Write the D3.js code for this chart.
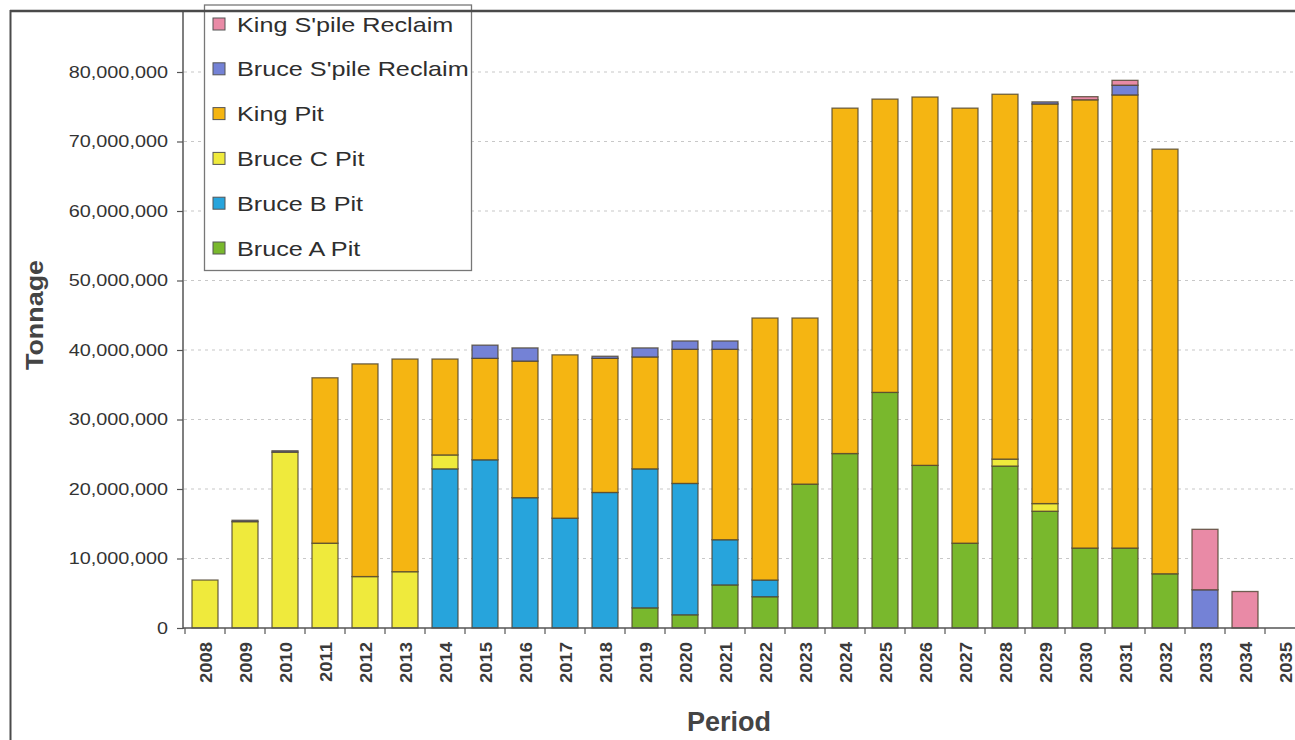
<!DOCTYPE html>
<html>
<head>
<meta charset="utf-8">
<script src="https://cdn.jsdelivr.net/npm/d3@7"></script>
<style>
  html, body { margin: 0; padding: 0; background: #fff; }
  svg { display: block; font-family: "Liberation Sans", Arial, sans-serif; }
</style>
</head>
<body>
<svg id="chart" width="1295" height="740"></svg>
<script>
// Annual tonnage by source, millions of tonnes
const years = d3.range(2008, 2036).map(String);

const bruceA       = [0, 0, 0, 0, 0, 0, 0, 0, 0, 0, 0, 2.9, 1.9, 6.2, 4.5, 20.7, 25.1, 33.9, 23.4, 12.2, 23.3, 16.8, 11.5, 11.5, 7.8, 0, 0, 0];
const bruceB       = [0, 0, 0, 0, 0, 0, 22.9, 24.2, 18.75, 15.8, 19.5, 20.0, 18.9, 6.5, 2.4, 0, 0, 0, 0, 0, 0, 0, 0, 0, 0, 0, 0, 0];
const bruceC       = [6.9, 15.3, 25.3, 12.2, 7.4, 8.1, 2.0, 0, 0, 0, 0, 0, 0, 0, 0, 0, 0, 0, 0, 0, 1.0, 1.1, 0, 0, 0, 0, 0, 0];
const kingPit      = [0, 0, 0, 23.8, 30.6, 30.6, 13.8, 14.6, 19.65, 23.5, 19.3, 16.1, 19.3, 27.4, 37.7, 23.9, 49.7, 42.2, 53.0, 62.6, 52.5, 57.5, 64.5, 65.2, 61.1, 0, 0, 0];
const bruceReclaim = [0, 0.2, 0.2, 0, 0, 0, 0, 1.9, 1.9, 0, 0.3, 1.3, 1.2, 1.2, 0, 0, 0, 0, 0, 0, 0, 0.3, 0, 1.4, 0, 5.5, 0, 0];
const kingReclaim  = [0, 0, 0, 0, 0, 0, 0, 0, 0, 0, 0, 0, 0, 0, 0, 0, 0, 0, 0, 0, 0, 0, 0.45, 0.7, 0, 8.7, 5.25, 0];

// Stack order, bottom to top
const seriesNames = ["Bruce A Pit", "Bruce B Pit", "Bruce C Pit", "King Pit", "Bruce S'pile Reclaim", "King S'pile Reclaim"];
const seriesValues = [bruceA, bruceB, bruceC, kingPit, bruceReclaim, kingReclaim];
const seriesColors = ["#79b82d", "#27a4dc", "#efea3c", "#f5b512", "#7482d6", "#e98aa6"];

const yTicks = d3.range(0, 80000001, 10000000);

const rows = years.map((yr, i) => {
  const r = { year: yr };
  seriesNames.forEach((n, k) => { r[n] = seriesValues[k][i] * 1e6; });
  return r;
});
const stacked = d3.stack().keys(seriesNames)(rows);

const svg = d3.select("#chart");
const x = d3.scaleBand().domain(years).range([185, 1305]).paddingInner(0.35).paddingOuter(0.175);
const y = d3.scaleLinear().domain([0, 80000000]).range([628, 72]);
const fmt = d3.format(",");

// stretch text along its writing direction
function stretch(sel, f) {
  sel.each(function () {
    const L = this.getComputedTextLength();
    this.setAttribute("textLength", (L * f).toFixed(1));
    this.setAttribute("lengthAdjust", "spacingAndGlyphs");
  });
}

// dotted gridlines
svg.append("g").selectAll("line").data(yTicks.slice(1)).join("line")
  .attr("x1", 184).attr("x2", 1295)
  .attr("y1", d => y(d)).attr("y2", d => y(d))
  .attr("stroke", "#c8c8c8").attr("stroke-width", 1.2).attr("stroke-dasharray", "3,4");

// stacked bars
svg.append("g").selectAll("g").data(stacked).join("g")
  .attr("fill", (d, i) => seriesColors[i])
  .selectAll("rect").data(d => d.filter(s => s[1] - s[0] > 0)).join("rect")
  .attr("x", d => x(d.data.year))
  .attr("width", x.bandwidth())
  .attr("y", d => y(d[1]))
  .attr("height", d => y(d[0]) - y(d[1]))
  .attr("stroke", "#4d4330").attr("stroke-opacity", 0.8).attr("stroke-width", 1.3);

// y axis
const yAxis = svg.append("g").attr("transform", "translate(183,0)")
  .call(d3.axisLeft(y).tickValues(yTicks).tickFormat(fmt).tickSize(6).tickSizeOuter(0));
yAxis.select(".domain").remove();
yAxis.selectAll(".tick line").attr("stroke", "#555").attr("stroke-width", 1.2);
yAxis.selectAll(".tick text").attr("x", -15).attr("font-size", 16).attr("fill", "#333")
  .attr("font-family", "Liberation Sans, Arial, sans-serif").call(stretch, 1.24);
svg.append("line").attr("x1", 183).attr("x2", 183).attr("y1", 11).attr("y2", 629)
  .attr("stroke", "#555").attr("stroke-width", 1.5);

// x axis
const xAxis = svg.append("g").attr("transform", "translate(0,628)")
  .call(d3.axisBottom(x).tickSize(0).tickSizeOuter(0));
xAxis.select(".domain").remove();
xAxis.selectAll(".tick text")
  .attr("font-size", 16).attr("font-weight", "bold").attr("fill", "#3a3a3a")
  .attr("font-family", "Liberation Sans, Arial, sans-serif")
  .attr("text-anchor", "end").attr("dy", "0.35em").attr("y", 0)
  .attr("transform", "translate(1,14) rotate(-90)")
  .call(stretch, 1.15);
svg.append("line").attr("x1", 183).attr("x2", 1295).attr("y1", 628).attr("y2", 628)
  .attr("stroke", "#555").attr("stroke-width", 1.5);
// category separator ticks
const step = x.step();
svg.append("g").selectAll("line").data(years).join("line")
  .attr("x1", d => x(d) - (step - x.bandwidth()) / 2)
  .attr("x2", d => x(d) - (step - x.bandwidth()) / 2)
  .attr("y1", 628).attr("y2", 634)
  .attr("stroke", "#555").attr("stroke-width", 1.2);

// axis titles
svg.append("text").attr("x", 729).attr("y", 731).attr("text-anchor", "middle")
  .attr("font-size", 27).attr("font-weight", "bold").attr("fill", "#444").text("Period");
svg.append("text").attr("transform", "translate(43,315) rotate(-90)").attr("text-anchor", "middle")
  .attr("font-size", 24).attr("font-weight", "bold").attr("fill", "#444").text("Tonnage")
  .call(stretch, 1.12);

// legend
const legendOrder = seriesNames.map((n, i) => i).reverse();
const legend = svg.append("g");
legend.append("rect").attr("x", 204.5).attr("y", 5).attr("width", 267).attr("height", 265.5)
  .attr("fill", "#fff").attr("stroke", "#777").attr("stroke-width", 1.3);
const items = legend.selectAll("g.item").data(legendOrder).join("g")
  .attr("transform", (k, j) => `translate(0,${24 + j * 44.8})`);
items.append("rect").attr("x", 213).attr("y", -6).attr("width", 12).attr("height", 12)
  .attr("fill", k => seriesColors[k]).attr("stroke", "#555").attr("stroke-width", 1);
items.append("text").attr("x", 237).attr("dy", "0.36em")
  .attr("font-size", 21).attr("fill", "#2e2e2e").text(k => seriesNames[k])
  .call(stretch, 1.2);

// outer frame
svg.append("line").attr("x1", 10).attr("x2", 1295).attr("y1", 11).attr("y2", 11)
  .attr("stroke", "#4a4a4a").attr("stroke-width", 2.5);
svg.append("line").attr("x1", 10.5).attr("x2", 10.5).attr("y1", 10).attr("y2", 740)
  .attr("stroke", "#4a4a4a").attr("stroke-width", 2);
</script>
</body>
</html>
